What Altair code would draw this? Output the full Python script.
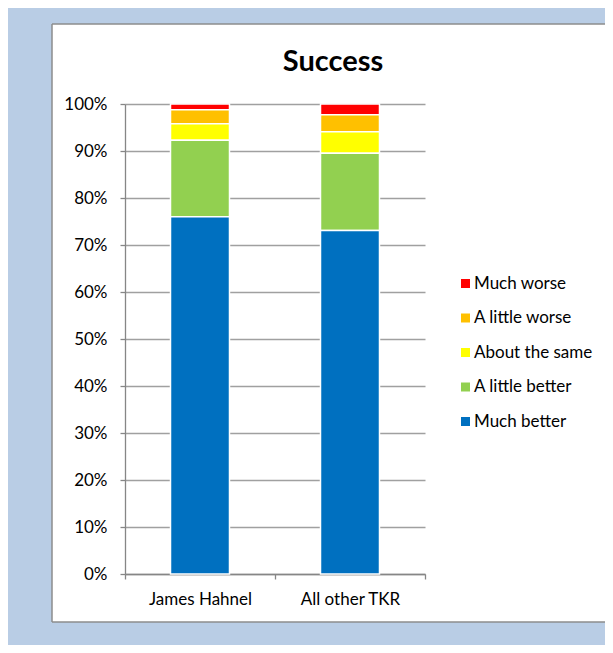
import altair as alt
import pandas as pd

groups = ["James Hahnel", "All other TKR"]
categories = ["Much worse", "A little worse", "About the same", "A little better", "Much better"]
colors = ["#FF0000", "#FFC000", "#FFFF00", "#92D050", "#0070C0"]
james = [1.2, 3.0, 3.5, 16.3, 76.0]
others = [2.3, 3.6, 4.6, 16.4, 73.1]
y_ticks = [0, 0.1, 0.2, 0.3, 0.4, 0.5, 0.6, 0.7, 0.8, 0.9, 1.0]
chart_title = "Success"

rows = []
for g, vals in zip(groups, [james, others]):
    for i, (c, v) in enumerate(zip(categories, vals)):
        rows.append({"group": g, "category": c, "value": v, "order": len(categories) - 1 - i})
df = pd.DataFrame(rows)

FONT = "Lato"
BLUE_BG = "#B9CDE5"
BORDER = "#8C8C8C"
AXIS_GRAY = "#868686"

one = alt.Data(values=[{}])


def strip(x, x2, y, y2, fill):
    return alt.Chart(one).mark_rect(fill=fill, strokeWidth=0).encode(
        x=alt.value(x), x2=alt.value(x2), y=alt.value(y), y2=alt.value(y2)
    )


def line(x, x2, y, y2):
    return alt.Chart(one).mark_rule(color=BORDER, strokeWidth=1.5).encode(
        x=alt.value(x), x2=alt.value(x2), y=alt.value(y), y2=alt.value(y2)
    )


# frame around the white chart panel (decoration)
frame = [
    strip(-117, -73, -96, 541, BLUE_BG),
    strip(-117, 480, -96, -80, BLUE_BG),
    strip(-117, 480, 518, 541, BLUE_BG),
    line(-73, -73, -80, 518),
    line(-73, 480, -80, -80),
    line(-73, 480, 518, 518),
]

title = alt.Chart(one).mark_text(
    text=chart_title, font=FONT, fontSize=29, fontWeight="bold", color="#000000",
    align="center", baseline="alphabetic",
).encode(x=alt.value(208), y=alt.value(-33))

bars = alt.Chart(df).mark_bar(size=59, stroke="white", strokeWidth=1.5).encode(
    x=alt.X(
        "group:N",
        sort=groups,
        scale=alt.Scale(paddingInner=0, paddingOuter=0),
        axis=alt.Axis(
            title=None, labelAngle=0, tickBand="extent", tickSize=5,
            labelFontSize=17, labelFont=FONT, labelColor="#000000",
            labelPadding=12, domainColor=AXIS_GRAY, tickColor=AXIS_GRAY,
            domainWidth=1.3, tickWidth=1.3,
        ),
    ),
    y=alt.Y(
        "value:Q",
        stack="normalize",
        scale=alt.Scale(domain=[0, 1]),
        axis=alt.Axis(
            title=None, format=".0%", values=y_ticks, tickSize=5,
            labelFontSize=17, labelFont=FONT, labelColor="#000000",
            labelPadding=13, domainColor=AXIS_GRAY, tickColor=AXIS_GRAY,
            gridColor="#A0A0A0", gridWidth=1.3, domainWidth=1.3, tickWidth=1.3,
        ),
    ),
    color=alt.Color(
        "category:N",
        sort=categories,
        scale=alt.Scale(domain=categories, range=colors),
        legend=alt.Legend(
            title=None, orient="none", legendX=332, legendY=171,
            symbolType="square", symbolSize=81, symbolStrokeWidth=0,
            labelFontSize=17, labelFont=FONT, labelColor="#000000",
            rowPadding=16.5, padding=0, labelOffset=0,
        ),
    ),
    order=alt.Order("order:Q", sort="ascending"),
)

chart = alt.layer(*frame, title, bars).properties(
    width=300,
    height=470,
    background="white",
    padding={"left": 117, "top": 96, "right": 180, "bottom": 71},
    autosize=alt.AutoSizeParams(type="none"),
).configure_view(stroke=None)

chart.save("out.html", embed_options={"renderer": "svg", "actions": False})
